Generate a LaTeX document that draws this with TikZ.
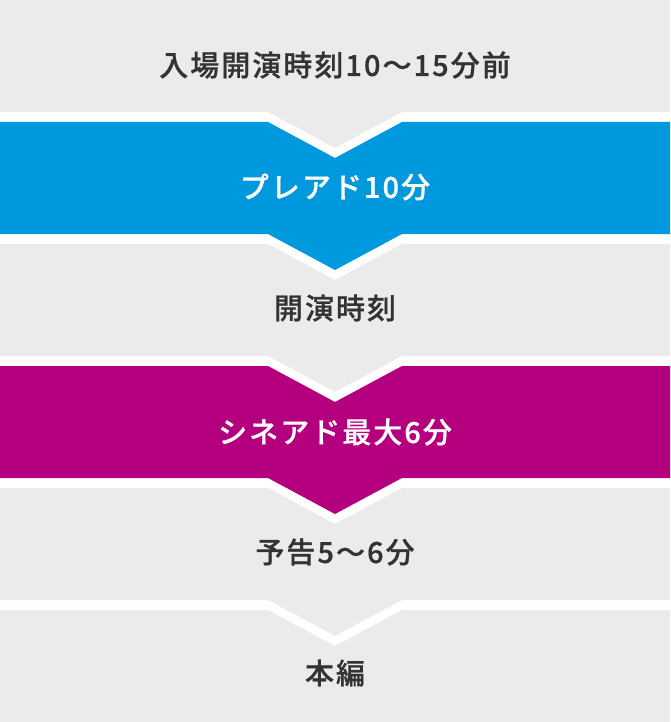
\documentclass[tikz,border=0pt]{standalone}
\usepackage{fontspec}
\setmainfont{Noto Sans CJK JP}[UprightFont=* Medium, LetterSpace=7, FakeBold=0.6]
\definecolor{bandgray}{HTML}{EBEBEB}
\definecolor{bandblue}{HTML}{0099DD}
\definecolor{bandmag}{HTML}{B4007E}
\definecolor{txtdark}{HTML}{333333}
\tikzset{
  lbl/.style={font=\fontsize{29}{32}\selectfont, text=txtdark, inner sep=0pt},
  lblw/.style={lbl, text=white},
}
\newcommand{\bandshape}[3]{% color, top, bottom
  \fill[#1] (0,#2) -- (268,#2) -- (335,#2+36) -- (402,#2) -- (670,#2) -- (670,#3) -- (402,#3) -- (335,#3+36) -- (268,#3) -- (0,#3) -- cycle;}
\begin{document}
\begin{tikzpicture}[x=1pt,y=-1pt]
\fill[white] (0,0) rectangle (670,722);
\useasboundingbox (0,0) rectangle (670,722);
% band 1
\fill[bandgray] (0,0) -- (670,0) -- (670,112) -- (402,112) -- (335,148) -- (268,112) -- (0,112) -- cycle;
\bandshape{bandblue}{122}{234}
\bandshape{bandgray}{244}{356}
\bandshape{bandmag}{366}{478}
\bandshape{bandgray}{488}{600}
\fill[bandgray] (0,610) -- (268,610) -- (335,646) -- (402,610) -- (670,610) -- (670,722) -- (0,722) -- cycle;
\node[lbl]  (t1) at (335,65)  {入場開演時刻10〜15分前};
\node[lblw] (t2) at (335,187) {プレアド10分};
\node[lbl]  (t3) at (335,308) {開演時刻};
\node[lblw] (t4) at (335,432) {シネアド最大6分};
\node[lbl]  (t5) at (335,552) {予告5〜6分};
\node[lbl]  (t6) at (335,673) {本編};
\end{tikzpicture}
\end{document}
